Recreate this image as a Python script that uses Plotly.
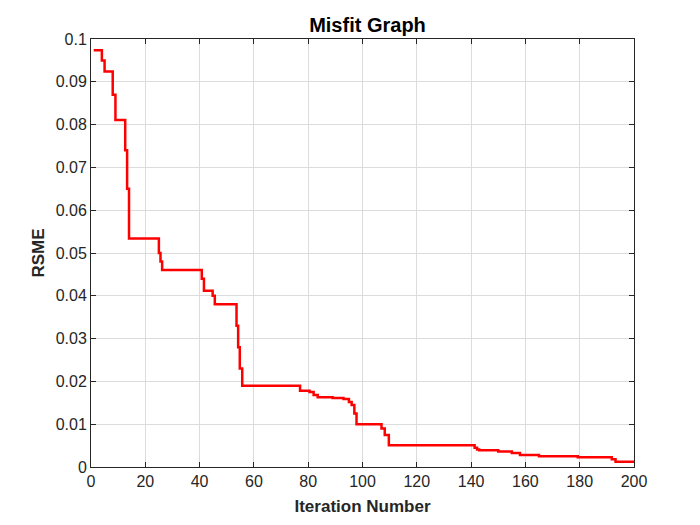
import plotly.graph_objects as go

iteration = [1, 4, 5, 8, 9, 12.6, 13.3, 14, 25, 25.6, 26.2, 40.8, 41.6, 44.8, 45.6, 53.6, 54.2, 54.8, 55.7,
             77, 80.5, 82, 83.5, 89, 93, 95, 96, 97, 97.8, 107, 108.2, 109.7,
             141.3, 142.2, 143, 150, 155, 158, 165, 179.3, 191.8, 193.2, 200]
rmse = [0.0974, 0.0950, 0.0924, 0.0870, 0.0811, 0.0740, 0.0650, 0.0534, 0.0500, 0.0480, 0.0460, 0.0440, 0.0412, 0.0400, 0.0380, 0.0330, 0.0280, 0.0230, 0.0190,
        0.0178, 0.0175, 0.0168, 0.0163, 0.0161, 0.0159, 0.0152, 0.0145, 0.0125, 0.0100, 0.0090, 0.0075, 0.0051,
        0.0045, 0.0041, 0.0039, 0.0036, 0.0033, 0.0028, 0.0025, 0.0023, 0.0018, 0.0012, 0.0012]

xticks = [0, 20, 40, 60, 80, 100, 120, 140, 160, 180, 200]
yticks = [0, 0.01, 0.02, 0.03, 0.04, 0.05, 0.06, 0.07, 0.08, 0.09, 0.1]
yticklabels = ["0", "0.01", "0.02", "0.03", "0.04", "0.05", "0.06", "0.07", "0.08", "0.09", "0.1"]

fig = go.Figure(go.Scatter(x=iteration, y=rmse, mode="lines", line=dict(color="#ff0000", width=2.5, shape="hv"),
                           showlegend=False))

axis_common = dict(showgrid=True, gridcolor="#dcdcdc", gridwidth=1, showline=True, linecolor="#262626",
                   linewidth=1, mirror="ticks", ticks="inside", ticklen=5, tickcolor="#262626",
                   zeroline=False, tickfont=dict(size=16, color="#262626"))

# page body has an 8px margin, so the figure is sized to fit inside the 700x525 window
fig.update_layout(
    width=692, height=517,
    margin=dict(l=83, r=66, t=31, b=58),
    paper_bgcolor="white", plot_bgcolor="white",
    font=dict(family="Liberation Sans, Arial, sans-serif", color="#262626"),
    title=dict(text="<b>Misfit Graph</b>", x=0.5195, xanchor="center", y=0.968, yanchor="middle",
               font=dict(size=20, color="black")),
    xaxis=dict(range=[0, 200], tickvals=xticks, ticktext=[str(v) for v in xticks],
               title=dict(text="<b>Iteration Number</b>", font=dict(size=17, color="#262626"), standoff=10),
               **axis_common),
    yaxis=dict(range=[0, 0.1], tickvals=yticks, ticktext=yticklabels,
               title=dict(text="<b>RSME</b>", font=dict(size=17, color="#262626"), standoff=6),
               **axis_common),
)

fig.write_html("out.html")
